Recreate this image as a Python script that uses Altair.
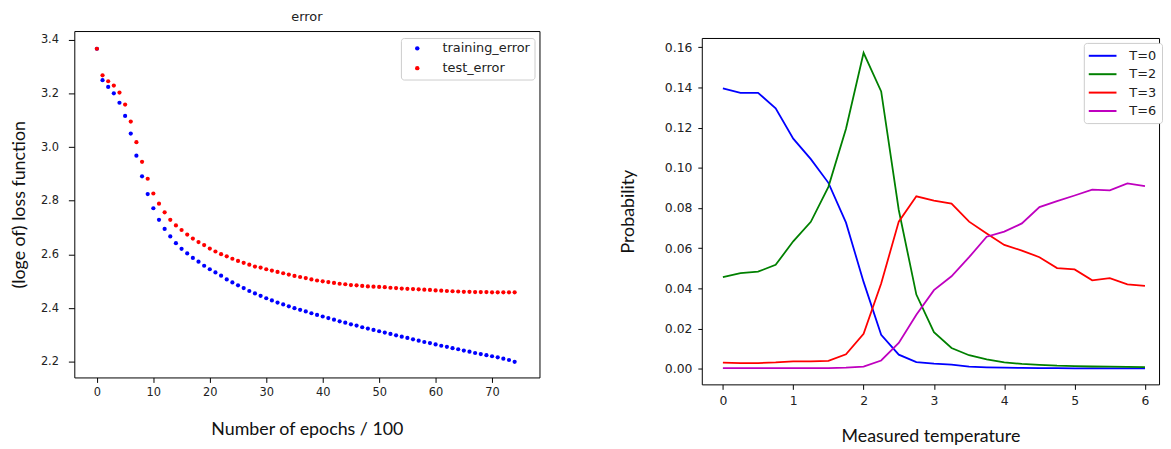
import altair as alt
import pandas as pd

# ---------------- data: left panel (error curves) ----------------
epochs = list(range(75))
training_error = [
    3.366, 3.249, 3.224, 3.200, 3.165, 3.116, 3.050, 2.968, 2.891, 2.825,
    2.772, 2.729, 2.695, 2.667, 2.642, 2.621, 2.604, 2.587, 2.573, 2.558,
    2.545, 2.533, 2.521, 2.507, 2.496, 2.485, 2.475, 2.464, 2.455, 2.446,
    2.437, 2.429, 2.421, 2.414, 2.407, 2.400, 2.394, 2.388, 2.381, 2.375,
    2.369, 2.363, 2.357, 2.351, 2.346, 2.340, 2.335, 2.329, 2.324, 2.319,
    2.314, 2.309, 2.304, 2.299, 2.294, 2.289, 2.284, 2.279, 2.274, 2.270,
    2.265, 2.260, 2.256, 2.251, 2.247, 2.242, 2.238, 2.233, 2.229, 2.225,
    2.221, 2.217, 2.212, 2.207, 2.200,
]
test_error = [
    3.366, 3.267, 3.245, 3.229, 3.203, 3.158, 3.095, 3.018, 2.945, 2.882,
    2.827, 2.789, 2.757, 2.729, 2.708, 2.691, 2.674, 2.659, 2.646, 2.635,
    2.622, 2.611, 2.601, 2.593, 2.584, 2.576, 2.569, 2.562, 2.555, 2.551,
    2.545, 2.540, 2.535, 2.530, 2.525, 2.520, 2.516, 2.512, 2.507, 2.503,
    2.500, 2.497, 2.494, 2.491, 2.489, 2.486, 2.485, 2.483, 2.481, 2.480,
    2.479, 2.478, 2.476, 2.475, 2.473, 2.472, 2.471, 2.470, 2.469, 2.468,
    2.466, 2.465, 2.464, 2.463, 2.462, 2.461, 2.461, 2.460, 2.460, 2.460,
    2.459, 2.459, 2.459, 2.459, 2.459,
]
left_series = ["training_error", "test_error"]
left_colors = ["#0000ff", "#ff0000"]
left_xticks = [0, 10, 20, 30, 40, 50, 60, 70]
left_yticks = [2.2, 2.4, 2.6, 2.8, 3.0, 3.2, 3.4]

# ---------------- data: right panel (probabilities) ----------------
temperature = [0, 0.25, 0.5, 0.75, 1, 1.25, 1.5, 1.75, 2, 2.25, 2.5, 2.75, 3,
               3.25, 3.5, 3.75, 4, 4.25, 4.5, 4.75, 5, 5.25, 5.5, 5.75, 6]
p_T0 = [0.1395, 0.1373, 0.1373, 0.1296, 0.1145, 0.1043, 0.0925, 0.0727, 0.0432,
        0.0169, 0.0070, 0.0033, 0.0025, 0.0020, 0.0010, 0.0007, 0.0005, 0.0004,
        0.0003, 0.0003, 0.0002, 0.0002, 0.0002, 0.0002, 0.0002]
p_T2 = [0.0456, 0.0476, 0.0483, 0.0517, 0.0634, 0.0731, 0.0905, 0.1194, 0.1572,
        0.1380, 0.0790, 0.0369, 0.0182, 0.0103, 0.0067, 0.0046, 0.0031, 0.0024,
        0.0019, 0.0015, 0.0013, 0.0011, 0.0010, 0.0009, 0.0008]
p_T3 = [0.0030, 0.0028, 0.0028, 0.0031, 0.0036, 0.0037, 0.0039, 0.0072, 0.0174,
        0.0424, 0.0732, 0.0858, 0.0837, 0.0822, 0.0732, 0.0673, 0.0616, 0.0588,
        0.0555, 0.0501, 0.0494, 0.0440, 0.0451, 0.0420, 0.0412]
p_T6 = [0.0003, 0.0003, 0.0003, 0.0003, 0.0003, 0.0003, 0.0003, 0.0005, 0.0010,
        0.0041, 0.0128, 0.0268, 0.0391, 0.0460, 0.0555, 0.0657, 0.0682, 0.0723,
        0.0804, 0.0834, 0.0862, 0.0891, 0.0888, 0.0922, 0.0909]
right_series = ["T=0", "T=2", "T=3", "T=6"]
right_colors = ["#0000ff", "#008000", "#ff0000", "#bf00bf"]
right_xticks = [0, 1, 2, 3, 4, 5, 6]
right_yticks = [0.0, 0.02, 0.04, 0.06, 0.08, 0.10, 0.12, 0.14, 0.16]

# ---------------- tables ----------------
left_df = pd.DataFrame({
    "epoch": epochs + epochs,
    "value": training_error + test_error,
    "series": [left_series[0]] * len(epochs) + [left_series[1]] * len(epochs),
})
right_df = pd.concat([
    pd.DataFrame({"temp": temperature, "prob": vals, "series": name})
    for name, vals in zip(right_series, [p_T0, p_T2, p_T3, p_T6])
], ignore_index=True)

TICK_FONT = "DejaVu Sans"
TITLE_FONT = "Lato"
TXT = "#222222"

left = alt.Chart(left_df).mark_circle(size=18, opacity=1).encode(
    x=alt.X("epoch:Q",
            scale=alt.Scale(domain=[-4.0, 78.4], nice=False, zero=False),
            axis=alt.Axis(values=left_xticks, title="Number of epochs / 100",
                          tickSize=5, labelPadding=4, labelFontSize=11.5,
                          titlePadding=23, titleFontSize=18)),
    y=alt.Y("value:Q",
            scale=alt.Scale(domain=[2.142, 3.432], nice=False, zero=False),
            axis=alt.Axis(values=left_yticks, format=".1f",
                          title="(loge of) loss function",
                          tickSize=6, labelPadding=10, labelFontSize=11.5,
                          titlePadding=12, titleFontSize=18)),
    color=alt.Color("series:N",
                    scale=alt.Scale(domain=left_series, range=left_colors),
                    legend=alt.Legend(title=None, orient="none",
                                      legendX=330, legendY=7,
                                      symbolType="circle", symbolSize=20,
                                      labelFontSize=13, labelFont=TICK_FONT,
                                      labelColor=TXT,
                                      padding=4, symbolOffset=6,
                                      labelOffset=19, rowPadding=6,
                                      fillColor="white", strokeColor="#cccccc",
                                      cornerRadius=3)),
).properties(
    width=470, height=350,
    title=alt.TitleParams("error", font=TICK_FONT, fontSize=13,
                          fontWeight="normal", color=TXT, offset=7,
                          frame="group", anchor="middle"),
)

# invisible spacer that pushes the right panel a few pixels lower
spacer = alt.Chart(pd.DataFrame({"s": [0]})).mark_point(opacity=0).encode(
    x=alt.X("s:Q", axis=None),
    y=alt.Y("s:Q", axis=None),
).properties(width=462, height=6, view=alt.ViewBackground(strokeOpacity=0))

right_plot = alt.Chart(right_df).mark_line(strokeWidth=1.8).encode(
    x=alt.X("temp:Q",
            scale=alt.Scale(domain=[-0.3, 6.2], nice=False, zero=False),
            axis=alt.Axis(values=right_xticks, format="d",
                          title="Measured temperature",
                          tickSize=5, labelPadding=5, labelFontSize=12.5,
                          titlePadding=21, titleFontSize=18)),
    y=alt.Y("prob:Q",
            scale=alt.Scale(domain=[-0.0078, 0.1646], nice=False, zero=False),
            axis=alt.Axis(values=right_yticks, format=".2f",
                          title="Probability",
                          tickSize=4, labelPadding=6, labelFontSize=12.5,
                          titlePadding=27, titleFontSize=18)),
    color=alt.Color("series:N",
                    scale=alt.Scale(domain=right_series, range=right_colors),
                    legend=alt.Legend(title=None, orient="none",
                                      legendX=386, legendY=12,
                                      symbolType="M-2,0H2", symbolSize=196,
                                      symbolStrokeWidth=2,
                                      labelFontSize=13, labelFont=TICK_FONT,
                                      labelColor=TXT,
                                      padding=5, symbolOffset=6,
                                      labelOffset=19, rowPadding=3.6,
                                      fillColor="white", strokeColor="#cccccc",
                                      cornerRadius=3)),
).properties(width=462, height=350)

right = alt.vconcat(spacer, right_plot, spacing=0)

chart = alt.hconcat(left, right, spacing=79).resolve_scale(
    color="independent"
).resolve_legend(
    color="independent"
).properties(
    padding={"left": 2, "top": 0, "right": 0, "bottom": 0}
).configure_view(
    stroke="black", strokeWidth=1
).configure_axis(
    grid=False, domain=False, tickColor="black", tickWidth=1,
    labelFont=TICK_FONT, labelColor=TXT,
    titleFont=TITLE_FONT, titleColor="#111111", titleFontWeight="normal",
)

chart.save("out.html", embed_options={"renderer": "svg", "actions": False})
